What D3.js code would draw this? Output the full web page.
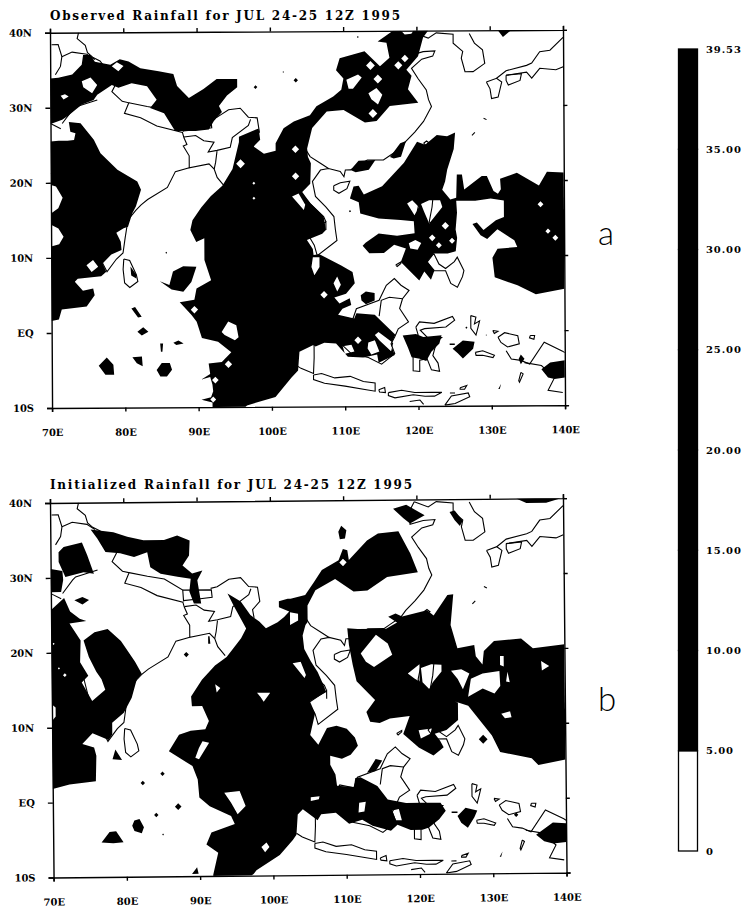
<!DOCTYPE html>
<html>
<head>
<meta charset="utf-8">
<script src="https://cdn.jsdelivr.net/npm/d3@7"></script>
<style>
body { margin: 0; background: #fff; }
svg { display: block; }
text { font-family: "DejaVu Serif", serif; fill: #000; }
</style>
</head>
<body>
<svg id="chart"></svg>
<script>
// tick labels
let lonTicks = [70, 80, 90, 100, 110, 120, 130, 140]
let lonLabels = ['70E', '80E', '90E', '100E', '110E', '120E', '130E', '140E']
let latTicks = [40, 30, 20, 10, 0, -10]
let latLabels = ['40N', '30N', '20N', '10N', 'EQ', '10S']
let barLabels = ['0', '5.00', '10.00', '15.00', '20.00', '25.00', '30.00', '35.00', '39.53']
let barColors = ['#fff', '#000', '#000', '#000', '#000', '#000', '#000', '#000']

// rainfall above 5 mm, panel a: [lon, lat] rings, holes are rings inside rings
let rainA = [
  [[70,33.9],[71.1,34],[73,34.4],[74.3,35.7],[74.5,37],[75.5,37],[76.1,36.1],[78.2,35.7],[79.5,36.4],[80.7,36.1],[82.3,35.2],[84.8,34.8],[86.8,34.4],[87.3,32.8],[88.9,31.2],[90.9,32.4],[92.7,33.7],[95.5,33.7],[95.5,32.6],[94.1,31.5],[93,30.1],[93.4,29.3],[92.3,28.1],[91.6,27],[89.8,26.8],[87,26.8],[85.5,29.2],[83.6,29.9],[84.5,31],[83.2,32.8],[81.1,33.2],[79.3,32.6],[78.4,33],[76.4,31.7],[75.9,31],[74.3,30.4],[72.5,29],[71.6,28.4],[70.2,27.9],[70,27.9]],
  [[78.4,35.5],[79.1,36],[80,35.5],[79.3,34.8]],
  [[74.3,33.5],[75.5,34],[76.4,33],[75.7,31.9],[74.5,32.7]],
  [[71.4,31.6],[72,31.8],[72.5,31.5],[71.8,31.1]],
  [[70,25.5],[71.1,25.6],[72.3,25.6],[73.2,25.7],[73.4,26.6],[72.7,26.8],[72.5,28.1],[74.1,27.9],[75.9,25.7],[76.8,23.9],[79.1,21.7],[81.8,20.1],[82.3,19],[81.6,16.8],[81.1,15.9],[80.5,14.1],[79.9,13.9],[78.9,13.3],[79.5,12.1],[79.6,11],[78.2,10.4],[77,9.2],[77.5,8.1],[76.8,7.5],[73.6,7.2],[73.2,6.8],[74.3,5.6],[75.7,5.9],[75.9,5],[74.8,3.5],[71.4,3.1],[71,1.8],[70,1.6],[70,11.5],[71.1,11.8],[71.7,12.8],[71,13.9],[70,14.4],[70,15.9],[71,16.6],[71.6,18],[70.7,19.5],[70,19.7]],
  [[74.8,9],[75.7,9.7],[76.4,8.8],[75.5,8.1]],
  [[91.9,-10],[91.9,-9.4],[90.4,-9],[91.7,-8.7],[92,-7.9],[91.9,-7],[91.6,-6],[90.4,-6.3],[91.6,-5.6],[91.4,-4.2],[93.2,-4],[94.5,-2.7],[92.7,-1.3],[90.5,-.8],[89.8,1.4],[89.1,2.3],[87.5,4],[89.5,4.3],[89.8,5.8],[91.8,6.9],[90.9,9.6],[90.9,12.5],[89.8,12],[89,13.6],[89.3,14.9],[90.5,16.6],[91.8,18.1],[93.4,19.5],[94.8,21.7],[95.7,25.3],[95.7,26],[98.4,27.1],[98.6,25.6],[97.7,24.7],[99.1,23.7],[100.7,24.1],[100.7,25.1],[101.8,27.1],[103.2,28],[105.4,28.8],[106.3,30],[108.6,31.3],[109.7,32.2],[110,33.7],[109,34.8],[109.5,36.4],[112.9,37.3],[115,35.3],[116.3,36.4],[115.9,38.4],[114.7,38.6],[116.8,40],[121.6,40],[120.9,39.1],[120.2,36.6],[118.6,34.8],[119.3,34],[118.8,32.2],[120.2,30.4],[116.3,30],[114.5,28],[112.9,27.8],[110,29.5],[107.7,29.3],[105.7,27.1],[105,24.4],[105.1,23.3],[105.5,22.4],[105.4,19.7],[104.3,18.6],[105.4,17.1],[107.2,15.3],[107.5,13.5],[107,13],[104.9,12.2],[105.7,11],[105.8,10.2],[106.6,10.3],[109.5,8.8],[111.1,7.9],[111.4,6.4],[110.2,5],[108.6,4.5],[109.3,3.7],[110.7,4.4],[110.9,3.5],[109.7,3],[109.1,2.2],[111.3,1.7],[111.6,2.4],[114.1,2.2],[116.9,-.5],[116.3,-1.8],[116.8,-3.2],[114.6,-4.2],[114.4,-3.1],[112.5,-3.5],[110.4,-3.4],[108.8,-1.6],[107.2,-1.5],[106,-2],[105.7,-1.8],[103.8,-2.7],[103.6,-5.2],[102.7,-6.1],[100.5,-8.7],[96.6,-9.8],[96.4,-10]],
  [[117.9,40],[118.4,39.5],[119.3,39.6],[119.6,40]],
  [[110.4,33.5],[112,34.2],[112.5,33.8],[111.3,32.3],[110.7,32.3]],
  [[113.4,31.7],[114.5,32.4],[115.3,31.5],[114.7,30.2],[113.8,30.9]],
  [[102.9,18],[103.8,18.4],[104.7,16.9],[104.5,16.2]],
  [[93.2,0],[94.1,1.4],[95.2,.9],[95.5,-.7],[95,-1.1],[93.6,-.4]],
  [[105.7,9.9],[106.6,9.9],[106.6,8.6],[105.9,7.5],[105.5,8.6]],
  [[109,7.3],[109.5,6.2],[109,5.3],[108.5,6.4]],
  [[109.7,-2],[110.9,-1.8],[111.3,-2.7],[110,-3]],
  [[113.2,-1.5],[114.1,-1.2],[114.7,-2.7],[113.6,-3.1],[113.1,-2.3]],
  [[114.1,-.5],[114.6,-.1],[116.6,-1.6],[116.3,-2.7],[114.7,-1.2]],
  [[120,25.2],[121.1,24.8],[122.7,26.1],[124.1,25.9],[125.2,26.4],[125,24.2],[124.1,21.5],[123.8,19.9],[123.4,18.8],[124.5,17.5],[125.3,17.7],[125.4,20.8],[126.1,20.8],[126.4,18.8],[128.8,20.6],[129.5,20.6],[130.4,18.6],[131,18.2],[131.4,18.8],[131.3,20.2],[133.6,21],[136.6,19.3],[137.7,21.1],[140,21],[140,5.5],[136.1,4.8],[133.6,6],[130.5,7.1],[130.2,9.7],[130.9,10.9],[133.6,11.1],[133.2,12],[130.9,13.5],[129.5,12.2],[128.6,12.7],[127.5,14.2],[128.1,14.4],[129,13.4],[130.7,14.7],[131.8,15.1],[131.8,17.3],[130,17.6],[127.9,17.3],[126.8,17.3],[125.3,17.3],[125.4,15.7],[125.2,13.5],[125.4,12.4],[125.2,10.6],[124.1,10.3],[122.2,10.3],[121.3,9.2],[122.3,8.1],[121.8,6.8],[120.9,7.9],[120.2,6.7],[117.7,9.2],[118.4,11],[116.8,11.5],[115.4,10.4],[113.4,10.4],[112.5,11.4],[112.9,11.8],[114.7,13],[117.2,12.7],[119.6,13],[119.5,14.6],[117.7,14.8],[114.7,15],[112.2,15.7],[112,17.2],[110.8,17.7],[111.3,19.3],[112,19.4],[112.7,18.2],[115.2,19.3],[118.2,22.4]],
  [[118.6,17],[119.3,17.4],[120.2,16.5],[119.6,15.4]],
  [[120.5,16.9],[121.6,17.4],[123.1,17.4],[123.4,16.5],[121.6,14.3],[120.9,15.9]],
  [[118.8,11.7],[119.7,12.1],[120.5,11.7],[120,10.8],[119,11]],
  [[110.9,21.5],[112,22.7],[114.3,22.8],[113.4,21.5],[111.6,21.2]],
  [[116.3,23.2],[117.7,25],[118.5,25.3],[117.8,23.2],[116.8,23]],
  [[84.8,6.8],[86.1,6.3],[86.6,8.1],[88,8.8],[89.8,8.7],[89.1,6.7],[88,5.4],[86.4,5.7]],
  [[80.8,8.8],[81.6,7.7],[81.6,7.2],[80.9,7.6]],
  [[80.9,3.2],[81.4,3.4],[82.3,2.1],[81.8,2]],
  [[81.7,.1],[82.5,.7],[83.2,.1],[82.3,-.4]],
  [[86.6,-1.4],[87.3,-1.1],[88,-1.5],[87,-1.7]],
  [[84.8,-1.5],[85.2,-1.5],[85.1,-2.6],[84.9,-2.6]],
  [[81,-3.3],[82.3,-3.2],[82.4,-4.5],[81.6,-4.1]],
  [[76.4,-4.4],[77.5,-3.3],[78.4,-4.3],[78.5,-5.6],[77.3,-5.6]],
  [[84.3,-5],[85,-4.1],[86.1,-4.1],[86.4,-5],[85.7,-5.9],[84.8,-5.9]],
  [[131.1,40],[132.9,40],[131.8,39.1]],
  [[112.2,4.8],[112.9,5.3],[114.1,5.1],[114.1,4.1],[112.9,3.6],[112.3,4.1]],
  [[117.9,-.6],[119.7,-.4],[120.7,-.8],[123.2,-.6],[122.9,-1.7],[121.8,-2.8],[121.1,-4],[120.2,-3.7],[119.1,-3.5],[118.6,-2.2]],
  [[124.7,-2.4],[126.1,-1.3],[127.7,-1.5],[127.5,-2.4],[126.1,-3.7],[125.4,-3]],
  [[124.3,-1.7],[125,-1.7],[125,-1.9],[124.3,-1.9]],
  [[136.8,-5.2],[138,-4.3],[140,-4],[140,-6.3],[138.6,-6.5],[137.7,-6.3]],
  [[134,-3.2],[134.5,-3.8],[134,-4.5],[133.7,-3.8]],
  [[131.3,-7.1],[131.1,-7.8],[130.9,-7.8]]
]
// small diamonds in panel a: [lon, lat, radius]
let spotsA = [[95.9,22.4,.6],[103.4,24.3,.5],[103.4,20.7,.5],[97.7,19.8,.2],[97.7,17.8,.2],[113.7,35.4,.6],[114.7,33.6,.6],[117.5,35.4,.55],[118.4,36.3,.5],[114,29,.6],[89.5,3,.5],[94.1,-4.3,.5],[92.3,-6.4,.45],[92,-9,.4],[107.2,4.9,.5],[111.8,-1.2,.5],[122,12.4,.45],[122.9,11.4,.4],[123.8,14,.5],[124.7,12,.4],[137.8,13.2,.35],[138.8,12.3,.4],[136.8,16.8,.4],[85.7,10.6,.12],[112,39.2,.12],[103.5,33.5,.3],[110.8,16,.15],[101.8,34.6,.1],[98,32.6,.25],[126.6,.4,.15],[129.3,-.6,.08]]

// rainfall above 5 mm, panel b
let rainB = [
  [[75.5,36.4],[78.6,36],[80.5,35.4],[82.7,34.9],[85.5,34.9],[87.3,35.5],[89,34.8],[88.9,32.8],[88,31.5],[89.3,30.4],[90.7,30.8],[90,29.5],[90.5,26.4],[89.5,26.4],[88.9,28],[89.1,29.7],[87.3,30],[85,30.4],[83.6,31.3],[83.2,33.3],[81.4,32.7],[79.5,33.2],[77.5,33.4],[76.4,35.2]],
  [[71.1,33.4],[71.8,34.1],[74.3,34.7],[75,33],[75.9,30.5],[74.5,30.7],[72,30.1],[71.1,32.1]],
  [[70,31.2],[71.6,30.9],[71.7,29.7],[71.4,28.1],[70,28.1]],
  [[70,25.7],[71.8,27.3],[72.6,25.5],[73.9,24.5],[74.8,24.2],[72.5,23.9],[74,21.6],[73.9,18.7],[75,16.9],[74.1,16],[75.5,13.5],[77.3,15],[76.8,16.4],[76.1,17.4],[75.1,19.4],[74.4,21.6],[75.9,22.7],[77.7,23.1],[79.5,21.5],[81.4,18.7],[82.3,17.1],[81.6,16.3],[80.9,13.9],[79.8,11.9],[78.2,10.6],[78.2,9],[77.7,8.3],[75.5,9.2],[74.1,7.8],[75.7,7.3],[76,6.2],[75.9,2.8],[72.3,2.4],[70,1.8],[70,10.9],[70.5,11.5],[70.5,12.7],[70,13.1]],
  [[73.2,27],[74.3,27.4],[75.2,27],[74.3,26.4]],
  [[91.4,22],[91.6,22],[91.7,21],[91.4,21]],
  [[78.6,7],[79.5,5.6],[78.2,5.7]],
  [[81.1,-2.5],[81.8,-2.3],[82.4,-3.4],[82.1,-4.2],[81.1,-3.9],[80.8,-3.2]],
  [[76.6,-5.4],[77.7,-4],[78.6,-3.9],[79.6,-5.4],[78.2,-5.5]],
  [[88.9,-9.7],[89.6,-8.8],[89.8,-9.7]],
  [[91.8,-10],[91.8,-9.8],[92.5,-6.9],[90.9,-5.8],[91.6,-4.2],[94.8,-3.1],[94.3,-2],[91.4,-.7],[90,.5],[89.8,2.9],[89.1,4.7],[85.9,6.7],[87.3,8.9],[88.9,9.4],[90.9,9.6],[91.4,10.7],[90.5,12.7],[89.1,12.7],[89,14],[90.5,16.2],[92.3,18.1],[93.9,19.2],[95.9,21.7],[96.6,23],[95,25.9],[94.1,27.7],[95.9,26.6],[97.2,24.8],[98.4,23.9],[99.3,23],[100.9,23.8],[101.8,24.5],[102.5,25.2],[102,25.4],[101.1,25.8],[101.1,26.6],[102.3,26.9],[102.7,26.9],[104.7,27.4],[105.9,29.1],[107,30.7],[109.3,32],[109.9,33.5],[110.5,33.3],[110.7,32],[113.2,34.6],[114.7,35.5],[117.5,35.8],[119.1,32.8],[120.1,30.3],[115.9,29.7],[113.2,27.9],[111.3,27.8],[108.8,29.5],[106.1,28],[105,26],[105,23.8],[104.7,23.4],[104.3,22],[104.5,20.2],[105.4,18.5],[106.3,17.1],[107.2,15.1],[107.4,14.4],[105.2,13.2],[105.9,11.6],[105.2,8.7],[106.3,7.4],[107.5,9.6],[108.8,9.9],[110.2,9.5],[111.3,8.3],[111.7,7.2],[110.7,6],[109.5,5.5],[107.9,5.9],[107.9,4.7],[108.6,3.4],[108.8,1.9],[111.1,1.7],[111.3,2.9],[112,3],[114.3,1.8],[115.7,0],[118.2,-.5],[120.2,-.5],[122.9,-.5],[123.6,-1.6],[122.7,-2.7],[121.3,-3.8],[120.4,-4.1],[118.8,-4.1],[117,-3.4],[116.1,-4.2],[113.6,-3.5],[112.2,-2.7],[110.4,-3.2],[108.6,-1.7],[106.6,-1.9],[106.1,-2.7],[104.1,-1.2],[103.4,-1.9],[103.2,-4.6],[102.7,-5.3],[100.9,-7.3],[97.7,-9.3],[97.3,-9.8],[97,-10]],
  [[102.6,25.1],[103.7,24.9],[103.7,24],[102.6,23.4]],
  [[102.9,18.3],[104,18.5],[104.7,16.7],[104.5,16.3]],
  [[93.4,1.1],[95.5,1.3],[96.3,-.7],[95.2,-1.8],[94.3,-.2]],
  [[92.3,15.6],[93,15.1],[92.5,14.5]],
  [[98,14.4],[99.8,14.4],[98.9,13.2],[98.5,13.8]],
  [[90.5,8],[91.4,7.8],[90,5.6],[89.5,5.8],[90,7.1]],
  [[98.4,-6.2],[99.1,-5.6],[99.5,-6.2],[98.9,-6.9]],
  [[111.8,-.4],[112.7,-.3],[112.5,-1.6],[111.7,-1.7]],
  [[105.2,.4],[106.4,.5],[106.3,.1],[105.2,-.1]],
  [[116.3,-1.5],[117.2,-1.3],[117.6,-2.8],[116.8,-2.8]],
  [[113.2,4],[114.1,5.4],[115,5.2],[114.1,3.8],[112.9,3.6]],
  [[110.4,22.9],[111.8,22.8],[115.7,22.8],[117.2,23.6],[116,24.4],[117,24.8],[117.9,24.4],[121.3,25.2],[122.2,24.5],[124.1,27.2],[124.9,27.3],[124.5,23.2],[125.4,20.1],[127.7,20.5],[127.9,19],[128.8,17.9],[129,19.7],[130.4,21],[134.1,21.3],[135.7,20],[140,20.5],[140,5.1],[136.3,4.4],[135.4,5.3],[131.1,6.2],[130,8.4],[126.8,12.4],[125,13],[125.4,12.8],[125.4,10.5],[123.8,9.2],[122.2,8.7],[122.9,7.8],[123.4,6.9],[122,5.8],[120,6.9],[117.9,8.7],[118.8,11.1],[116.1,10.8],[114.7,10.2],[113.4,10.4],[112.9,11.7],[114.1,13.3],[111.6,15.8],[111.1,18],[110.6,20.7]],
  [[112.2,19.5],[114.3,22],[115.9,20.8],[116.5,19.3],[114,17.7],[112.9,18.4]],
  [[118.6,16.8],[120.2,18],[120.2,15.7],[119.5,16.1]],
  [[120.4,17.5],[121.8,18],[123.2,17.9],[123.2,17],[122,15.6],[121.5,14.7],[120.6,15.6]],
  [[124.5,17.1],[125.9,17.3],[127,16.7],[126.1,14.6],[125.4,16]],
  [[127.2,16],[128.8,16.7],[131.1,17],[131.2,15],[130.4,14],[128.8,14.7],[126.8,13.6]],
  [[131.2,19],[131.7,19],[131.7,17.6],[131.2,17.8]],
  [[132.2,16.9],[132.5,15.5],[132,15.6]],
  [[136.8,18.3],[137.9,17.6],[136.9,17]],
  [[131.3,11.3],[132.5,11.6],[132.7,10.8],[131.8,10.7]],
  [[120,9.2],[121.8,9.4],[121.6,8.7],[120.3,8.1]],
  [[116.8,38.8],[118.6,39.3],[121.1,37.9],[119.1,36.8],[118.2,37.5]],
  [[109.3,35.8],[109.7,36.6],[110.4,36],[110.2,34.9],[109.5,34.8]],
  [[124.5,38.3],[125.2,38.5],[126.3,37.1],[125.9,36.4],[125.2,37.2]],
  [[133.6,40],[139.7,40],[137.7,39.4],[135,39.4]],
  [[125.2,-2.3],[126.3,-1.2],[127.9,-1.6],[127.5,-2.5],[126.6,-3.9],[125.7,-3.2]],
  [[135.9,-4.9],[138.2,-3.3],[140,-3.4],[140,-5.9],[138.2,-6.1],[137,-5.8]],
  [[124.4,-1.7],[125.2,-1.7],[125.2,-1.9],[124.4,-1.9]],
  [[131.3,-7.1],[131.1,-7.8],[130.9,-7.8]]
]
// small diamonds in panel b: [lon, lat, radius]
let spotsB = [[88.4,19.6,.35],[82.3,2.5,.3],[85,3.7,.3],[87.1,-.7,.45],[84.1,-1.8,.3],[85,-4.4,.12],[109.9,31.7,.5],[128.8,7.9,.6],[70.3,21.2,.15],[71,17.9,.15],[71.8,17,.25],[133.2,-2.2,.3]]

// coast and border lines, shared by both panels
let coastLines = [
  [[73.9,40],[73.7,39.2],[74.8,38.3],[75.1,37.3],[75.8,36.7],[76.8,36.2],[78.2,34.4],[79.1,33.4],[78.4,32.1],[79.8,30.8],[80.7,30.6],[80.1,29.2],[82.3,28.6],[84.5,27.5],[88,26.6],[88.2,25.9],[88.6,25],[88.1,24.8],[88.9,23.5],[88.9,21.9],[91.6,22.4],[92.3,21.7],[92.7,20.6],[93.7,19.4]],
  [[80.7,30.6],[83.2,30.1],[85.5,29.7],[88,28.2],[88.1,26.7]],
  [[88,28.2],[91.9,28.2],[92,27.2],[90.1,27],[88.1,26.8]],
  [[91.8,28.4],[92.7,28.6],[94.3,29.6],[95.9,29.8],[97,28.6],[98.2,28.5],[98.5,26.6],[97.5,25.5],[97.7,24.4]],
  [[88.2,26],[89.8,26.2],[90.9,25.5],[92.3,25.3],[91.5,24],[92.7,24.2],[94.5,24.6],[94.8,25.9],[97,27.5],[97.3,28.3]],
  [[92.7,24.1],[92.5,22.6],[92.3,21.7]],
  [[88.9,21.9],[87,21.4],[85.9,19.3],[83.2,17.7],[82.3,17],[81.6,16.3],[80.5,15],[80.1,12.6],[79.8,10.6],[78.9,9.8],[77.6,8.1],[76.3,10.6],[75.2,13.2],[74.1,17.7],[72.9,19],[72.3,21.2],[70.9,22.1],[70,21.2]],
  [[70.2,38.4],[71.1,38.4],[71.6,36.8],[71.4,35.5],[70.7,34.4]],
  [[71.6,36.8],[73,37.4],[75,37.1],[76.1,36.4]],
  [[70,27.9],[71.4,27.2]],
  [[71.6,27.9],[73,29.7],[73.4,30.1],[76.4,31]],
  [[79.9,9.8],[80.7,9.6],[81.6,7.7],[81.8,6.8],[80.7,6],[80,6.6],[79.8,8.4],[79.9,9.8]],
  [[119.7,39.7],[121.6,39],[122.7,39.7],[125,39.5],[125,38.3],[126.3,37.2],[126.1,36.3],[126.6,34.5],[127.7,34.5],[129.3,35.6],[129,37.4],[127.9,38.3],[127.2,39.6]],
  [[119.7,39.7],[119,38.4],[119.1,36.7],[120.9,37.2],[122.5,37.3],[122.2,36.6],[120.7,36.2],[119.3,35],[120.2,33.6],[121.3,32.1],[121.6,30.8],[122,29.9],[120.9,27.9],[119.7,26.5],[118.4,25.2],[117.7,24.3],[116.3,23.4],[115.4,22.8],[113.2,22.8],[110.9,21.5],[110.2,21.5],[110,20.6],[109.5,21.3],[107.9,21.7],[106.8,21.5],[105.7,20],[106.1,18],[107.5,16.6],[108.6,15.3],[108.8,13.5],[109,12.1],[106.3,10.1],[105.9,11.5],[105,13],[107.5,14.6],[107.5,13.5]],
  [[104,18.6],[105.4,17],[107.2,15.3],[107.5,14.6]],
  [[104.7,24.4],[105.4,23.3],[106.8,22.4],[107.9,21.7]],
  [[108.6,19.4],[109.5,19.8],[110.8,20],[110.4,19],[109.3,18.4],[108.6,18.8],[108.6,19.4]],
  [[120.9,25],[121.3,25.3],[121.7,25],[121.2,24.7],[120.9,25]],
  [[129.5,33.1],[130.9,33.6],[131.6,33.1],[131.1,31.1],[130.2,30.9],[130,32.2],[129.5,33.1]],
  [[132.2,34],[134.3,34.2],[134.1,33.3],[132.5,32.7],[132.2,33.3],[132.2,34]],
  [[130.9,33.6],[132.2,34.6],[135,35.3],[135.7,35.6],[136.8,37.1],[138.2,37.3],[140,39]],
  [[140,35.1],[139,34.7],[136.8,34.9],[135.7,33.6],[135,34.4],[132.2,34]],
  [[129.1,28.3],[129.5,28.1]],
  [[127.5,26],[127.9,26.4]],
  [[103.2,-4.4],[104,-4.9],[105.7,-5.6],[105.8,-3.5],[105.8,-1.8],[104.5,-1],[103.5,-1.2]],
  [[105.7,-5.8],[106.8,-5.6],[108.6,-6.2],[110.7,-6],[112.5,-6.7],[114.1,-6.9],[114.1,-8],[112.9,-7.8],[110,-7.3],[107.2,-6.9],[105.7,-6.4],[105.7,-5.8]],
  [[114.6,-7.8],[115.4,-7.5],[115.5,-8.2],[114.7,-8.1],[114.6,-7.8]],
  [[115.9,-8.2],[117.7,-7.9],[119.5,-8.2],[121.8,-8.2],[123.2,-8.2],[122.2,-8.7],[120.9,-8.7],[119.3,-8.5],[116.8,-8.9],[115.9,-8.6],[115.9,-8.2]],
  [[124.3,-8.3],[125,-8.3]],
  [[123.6,-9.9],[124.5,-8.7],[126.8,-8.3],[127,-8.8],[125,-9.7],[123.6,-9.9]],
  [[118.8,-9.4],[120.2,-9.2],[120.7,-9.8]],
  [[125.7,-7.6],[126.6,-7.3],[126.3,-7.8],[125.7,-7.8],[125.7,-7.6]],
  [[109.1,2],[111.1,1.6],[111.6,3],[114.7,4.1],[115.7,6.1],[116.8,7],[117.7,6.1],[118.8,5.4],[117.9,4.3],[117.5,3],[118.7,1.2],[117.3,.3],[116.8,-.8],[116.3,-1.7],[116.8,-3],[115,-4.4],[113.2,-3.5],[110.9,-3],[109.5,-1.7],[109.1,2]],
  [[114.7,2],[115,4.1],[116.1,4.5],[117.9,4.3]],
  [[119.7,.5],[120,-.5],[119.3,-1],[119.3,-3.9],[119.3,-5.3],[120.2,-5.4],[120.2,-3.9],[121.2,-3.7],[121.8,-5.2],[122.9,-5.4],[122.7,-4.3],[122,-3.3],[122.5,-1.5],[123.2,-.9],[121.3,-.9],[120.3,.1],[120.9,.3],[123.8,.5],[125,1.4],[124.7,1.9],[122.2,1],[120.2,1.2],[119.7,.5]],
  [[127.2,2],[127.9,1.8],[127.7,.9],[128.4,1.3],[128.2,.5],[127.9,-.6],[127.2,.3],[127.2,1.2],[127.2,2]],
  [[127.8,-2.9],[128.8,-2.7],[130.4,-3.3],[130.2,-3.6],[128.8,-3.3],[127.9,-3.3],[127.8,-2.9]],
  [[130.9,-.9],[131.8,-.3],[133.6,-.7],[133.8,-1.8],[132.2,-2.2],[131.3,-1.6],[130.9,-.9]],
  [[132,-2.7],[132.7,-3.8],[134,-4],[135.2,-4.5],[137.2,-1.6],[139.7,-2.8],[140,-3]],
  [[134.5,-4.3],[136.8,-4.7],[138.6,-6.3],[137.7,-8],[139.7,-8.3]],
  [[135.3,-.7],[135.9,-.7],[135.8,-1.2],[135.2,-1],[135.3,-.7]],
  [[130.2,0],[130.9,-.1],[130.4,-.4],[130.2,0]],
  [[134,-5.6],[134.3,-5.8],[133.8,-6.9],[133.7,-6.7],[134,-5.6]],
  [[122.2,10.3],[121.3,9.2],[122.2,8],[123.8,8],[124.5,6.3],[125.4,5.8],[126.1,7.2],[126.3,8],[125.4,9.8],[125,9.2],[123.8,8.3],[122.9,8.9],[122.2,10.3]],
  [[117,8.8],[117.7,9.2],[117.7,9],[117.2,8.6],[117,8.8]],
  [[120.5,18.3],[122.2,18.4],[122,16.5],[121.6,14.5],[124,13],[122.5,13.7],[120.7,14],[120,16],[120.5,18.3]]
]

let width = 747
let height = 910
let svg = d3.select('#chart').attr('width', width).attr('height', height)

let xScale = d3.scaleLinear().domain([70, 140]).range([50, 563])

let ringPath = d3.line().x((d) => d.x).y((d) => d.y)

let diamond = (s) => [[s[0] - s[2], s[1]], [s[0], s[1] + s[2]], [s[0] + s[2], s[1]], [s[0], s[1] - s[2]]]

let drawPanel = (id, title, titleWidth, titleY, top, bottom, tilt, rings, spots) => {
    let yScale = d3.scaleLinear().domain([40, -10]).range([top, bottom])
    let toPixels = (pts) => pts.map((p) => ({ x: xScale(p[0]), y: yScale(p[1]) }))

    svg.append('text')
        .attr('x', 50)
        .attr('y', titleY)
        .attr('font-size', 12)
        .attr('font-weight', 'bold')
        .attr('textLength', titleWidth)
        .attr('lengthAdjust', 'spacing')
        .text(title)

    let g = svg.append('g')
        .attr('transform', 'rotate(' + tilt + ' 50 ' + top + ')')

    g.append('clipPath').attr('id', id)
        .append('rect')
        .attr('x', 50)
        .attr('y', top)
        .attr('width', 513)
        .attr('height', bottom - top)

    let plot = g.append('g').attr('clip-path', 'url(#' + id + ')')

    // evenodd so a ring inside a ring comes out white
    plot.append('path')
        .attr('fill', '#000')
        .attr('fill-rule', 'evenodd')
        .attr('d', rings.concat(spots.map(diamond)).map((r) => ringPath(toPixels(r)) + 'Z').join(''))

    plot.selectAll('.coast')
        .data(coastLines)
        .enter()
        .append('path')
        .attr('class', 'coast')
        .attr('fill', 'none')
        .attr('stroke', '#000')
        .attr('stroke-width', 1.1)
        .attr('d', (d) => ringPath(toPixels(d)))

    let xLabel = (d) => lonLabels[lonTicks.indexOf(d)]
    let yLabel = (d) => latLabels[latTicks.indexOf(d)]

    let axes = [
        g.append('g').attr('transform', 'translate(0,' + bottom + ')')
            .call(d3.axisBottom(xScale).tickValues(lonTicks).tickFormat(xLabel).tickSize(4).tickPadding(17)),
        g.append('g').attr('transform', 'translate(0,' + top + ')')
            .call(d3.axisTop(xScale).tickValues(lonTicks).tickFormat('').tickSize(4)),
        g.append('g').attr('transform', 'translate(50,0)')
            .call(d3.axisLeft(yScale).tickValues(latTicks).tickFormat(yLabel).tickSize(5).tickPadding(13)),
        g.append('g').attr('transform', 'translate(563,0)')
            .call(d3.axisRight(yScale).tickValues(latTicks).tickFormat('').tickSize(4))
    ]
    axes.forEach((a) => {
        a.attr('font-family', null).attr('font-size', null)
        a.selectAll('path, line').attr('stroke', '#000').attr('stroke-width', 1.4)
        a.selectAll('text').attr('font-size', 10).attr('font-weight', 'bold').attr('fill', '#000')
    })
}

drawPanel('clip-a', 'Observed Rainfall for JUL 24-25 12Z 1995', 350, 20, 32.7, 408, -0.315, rainA, spotsA)
drawPanel('clip-b', 'Initialized Rainfall for JUL 24-25 12Z 1995', 362, 489, 503, 877.5, -0.544, rainB, spotsB)

// panel letters
svg.append('text').attr('x', 598).attr('y', 245).attr('font-size', 33).style('font-family', 'Lato, sans-serif').style('font-weight', 300).text('a')
svg.append('text').attr('x', 598).attr('y', 711).attr('font-size', 33).style('font-family', 'Lato, sans-serif').style('font-weight', 300).text('b')

// colour bar, labels sit at equal steps whatever their value
let barScale = d3.scalePoint().domain(barLabels).range([851, 49])
let bar = svg.append('g')

bar.selectAll('rect')
    .data(barColors)
    .enter()
    .append('rect')
    .attr('x', 678.5)
    .attr('width', 19)
    .attr('y', (d, i) => barScale(barLabels[i + 1]))
    .attr('height', (d, i) => barScale(barLabels[i]) - barScale(barLabels[i + 1]))
    .attr('fill', (d) => d)
    .attr('stroke', '#000')
    .attr('stroke-width', 1.3)

let barAxis = bar.append('g')
    .attr('transform', 'translate(698,0)')
    .call(d3.axisRight(barScale).tickSize(0).tickPadding(8))
barAxis.select('.domain').remove()
barAxis.attr('font-family', null).attr('font-size', null)
barAxis.selectAll('text').attr('font-size', 10).attr('font-weight', 'bold').attr('fill', '#000').attr('letter-spacing', 0.9)
</script>
</body>
</html>
